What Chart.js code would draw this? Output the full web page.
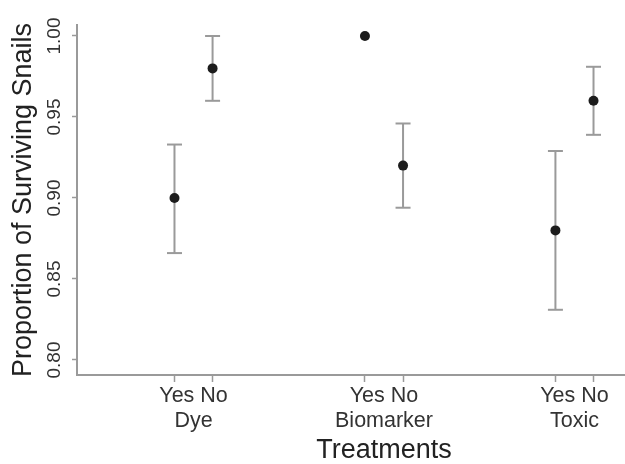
<!DOCTYPE html>
<html><head><meta charset="utf-8">
<script src="https://cdn.jsdelivr.net/npm/chart.js@4/dist/chart.umd.min.js"></script>
<style>html,body{margin:0;padding:0;background:#fff;overflow:hidden}#wrap{width:691px;height:464px}</style>
</head><body><div id="wrap"><canvas id="c" width="691" height="464"></canvas></div>
<script>
// ---- data ----
const groups = ['Dye', 'Biomarker', 'Toxic'];
const levels = ['Yes', 'No'];
const proportion = [0.90, 0.98, 1.00, 0.92, 0.88, 0.96];
const lowerCI = [0.866, 0.960, null, 0.894, 0.831, 0.939];
const upperCI = [0.933, 1.000, null, 0.946, 0.929, 0.981];
const yTicks = [0.80, 0.85, 0.90, 0.95, 1.00];
const yLabel = 'Proportion of Surviving Snails';
const xLabel = 'Treatments';

// x position of each point: group index * 5 + level index (+1)
const xOf = i => 1 + Math.floor(i / levels.length) * 5 + (i % levels.length);

const pts = proportion.map((v, i) => ({x: xOf(i), y: v}));
const whisk = [];
lowerCI.forEach((lo, i) => {
  if (lo == null) return;
  whisk.push({x: xOf(i), y: lo}, {x: xOf(i), y: upperCI[i]}, {x: xOf(i), y: null});
});
const loCaps = lowerCI.map((v, i) => ({x: xOf(i), y: v})).filter(p => p.y != null);
const hiCaps = upperCI.map((v, i) => ({x: xOf(i), y: v})).filter(p => p.y != null);

const xTickObjs = [];
proportion.forEach((v, i) => xTickObjs.push({value: xOf(i), mark: true}));
groups.forEach((g, gi) => {
  const a = xOf(gi * levels.length), b = xOf(gi * levels.length + levels.length - 1);
  xTickObjs.push({value: (a + b) / 2, mark: false, text: [levels.join(' '), g]});
});
xTickObjs.sort((p, q) => p.value - q.value);

const GREY = '#9a9a9a';
const FONT = "'Liberation Sans', Arial, Helvetica, sans-serif";

const yTickLabels = {
  id: 'yTickLabels',
  afterDraw(chart) {
    const s = chart.scales.y, ctx = chart.ctx;
    ctx.save();
    ctx.fillStyle = '#333';
    ctx.font = '19px ' + FONT;
    ctx.textAlign = 'center';
    ctx.textBaseline = 'middle';
    yTicks.forEach(v => {
      ctx.save();
      ctx.translate(55, s.getPixelForValue(v));
      ctx.rotate(-Math.PI / 2);
      ctx.fillText(v.toFixed(2), 0, 0);
      ctx.restore();
    });
    ctx.restore();
  }
};

new Chart(document.getElementById('c'), {
  type: 'scatter',
  data: {
    datasets: [
      {label: 'proportion', data: pts, order: 0, pointRadius: 5, pointBackgroundColor: '#1c1c1c', pointBorderColor: '#1c1c1c', pointBorderWidth: 0},
      {label: 'ci', data: whisk, order: 2, showLine: true, spanGaps: false, borderColor: GREY, borderWidth: 2, pointRadius: 0},
      {label: 'lower', data: loCaps, order: 1, pointStyle: 'line', pointRadius: 7.5, pointBorderColor: GREY, pointBorderWidth: 2},
      {label: 'upper', data: hiCaps, order: 1, pointStyle: 'line', pointRadius: 7.5, pointBorderColor: GREY, pointBorderWidth: 2}
    ]
  },
  options: {
    responsive: false,
    animation: false,
    layout: {autoPadding: false, padding: {top: 25, left: 0, right: 0, bottom: 0}},
    plugins: {legend: {display: false}, tooltip: {enabled: false}},
    scales: {
      x: {
        type: 'linear', min: -1.559, max: 14.559,
        afterFit(s) { s.height = 89; s.paddingLeft = 0; s.paddingRight = 0; },
        afterBuildTicks(s) { s.ticks = xTickObjs.map(t => Object.assign({}, t)); },
        grid: {drawOnChartArea: false, drawTicks: true, tickLength: 7, tickWidth: 1.5,
               tickColor: c => (c.tick && c.tick.mark) ? GREY : 'rgba(0,0,0,0)'},
        border: {color: GREY, width: 2},
        ticks: {autoSkip: false, maxRotation: 0, minRotation: 0, padding: 2, color: '#333',
                font: {size: 21.5, family: FONT, lineHeight: 1.15},
                callback: (v, i, t) => t[i].mark ? '' : t[i].text},
        title: {display: true, text: xLabel, color: '#222', font: {size: 27, family: FONT, lineHeight: 1.0}, padding: {top: 0, bottom: 0}}
      },
      y: {
        min: 0.79074, max: 1.00679,
        afterFit(s) { s.width = 77; },
        afterBuildTicks(s) { s.ticks = yTicks.map(v => ({value: v})); },
        grid: {drawOnChartArea: false, drawTicks: true, tickLength: 5, tickWidth: 1.5, tickColor: GREY},
        border: {color: GREY, width: 2},
        ticks: {display: false},
        title: {display: true, text: yLabel, color: '#222', font: {size: 27, family: FONT, lineHeight: 1.0}, padding: {top: 10, bottom: 0}}
      }
    }
  },
  plugins: [yTickLabels]
});
</script>
</body></html>
